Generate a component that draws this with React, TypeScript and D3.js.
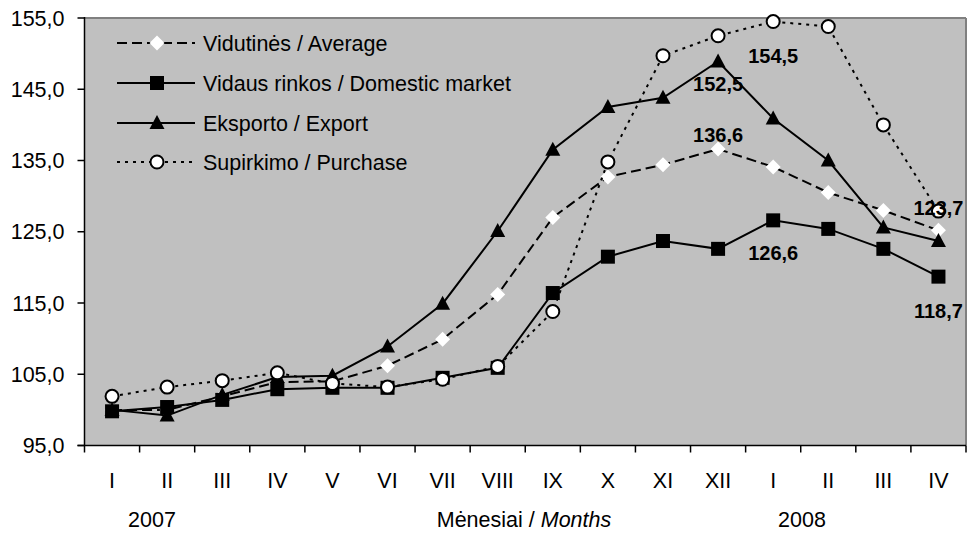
import React from "react";
import * as d3 from "d3";

const months = ["I", "II", "III", "IV", "V", "VI", "VII", "VIII", "IX", "X", "XI", "XII", "I", "II", "III", "IV"];
const average = [100.0, 100.0, 101.9, 103.9, 104.0, 106.2, 109.9, 116.2, 127.0, 132.7, 134.4, 136.6, 134.1, 130.5, 128.0, 125.2];
const domestic = [99.8, 100.4, 101.4, 102.9, 103.1, 103.1, 104.5, 105.9, 116.4, 121.5, 123.7, 122.6, 126.6, 125.4, 122.6, 118.7];
const exportS = [100.0, 99.2, 102.1, 104.6, 104.8, 108.9, 114.9, 125.1, 136.5, 142.5, 143.8, 148.9, 140.9, 135.0, 125.6, 123.7];
const purchase = [101.9, 103.2, 104.1, 105.2, 103.7, 103.2, 104.3, 106.1, 113.8, 134.8, 149.7, 152.5, 154.5, 153.8, 140.0, 127.9];
const yTicks = [95, 105, 115, 125, 135, 145, 155];
const legendNames = ["Vidutinės / Average", "Vidaus rinkos / Domestic market", "Eksporto / Export", "Supirkimo / Purchase"];

// data labels: [series index, point index, text, dy]
const labels: [number, number, string, number][] = [
  [3, 12, "154,5", 41],
  [3, 11, "152,5", 55],
  [0, 11, "136,6", -7],
  [1, 12, "126,6", 40],
  [2, 15, "123,7", -26],
  [1, 15, "118,7", 41],
];

const W = 970, H = 533;
const L = 84.5, R = 966, T = 18, B = 445.5;
const FONT = "'Liberation Sans', Arial, sans-serif";
const FS = 21.5;

export default function App() {
  const x = d3.scaleBand<number>().domain(d3.range(months.length)).range([L, R]).padding(0);
  const cx = (i: number) => (x(i) as number) + x.bandwidth() / 2;
  const y = d3.scaleLinear().domain([95, 155]).range([B, T]);
  const line = d3.line<number>().x((_, i) => cx(i)).y((d) => y(d));
  const series = [average, domestic, exportS, purchase];
  const dashes = ["10,5", "", "", "3,5"];

  const marker = (k: number, px: number, py: number, key: string) => {
    if (k === 0) {
      const s = 7.5;
      return <path key={key} d={`M${px},${py - s}L${px + s},${py}L${px},${py + s}L${px - s},${py}Z`} fill="#fff" />;
    }
    if (k === 1) return <rect key={key} x={px - 7} y={py - 7} width={14} height={14} fill="#000" />;
    if (k === 2) return <path key={key} d={`M${px},${py - 8}L${px + 7.5},${py + 6}L${px - 7.5},${py + 6}Z`} fill="#000" />;
    return <circle key={key} cx={px} cy={py} r={6.5} fill="#fff" stroke="#000" strokeWidth={2} />;
  };

  const legendY = [43, 83, 123, 162];

  return (
    <svg width={W} height={H} style={{ position: "absolute", left: 0, top: 0, fontFamily: FONT }}>
      <rect x={0} y={0} width={W} height={H} fill="#fff" />
      <rect x={L} y={T} width={R - L} height={B - T} fill="#c0c0c0" />
      <line x1={L} x2={R} y1={T} y2={T} stroke="#808080" strokeWidth={2} />
      <line x1={R} x2={R} y1={T} y2={B} stroke="#808080" strokeWidth={2} />
      {/* axes */}
      <line x1={L} x2={L} y1={T - 1} y2={B} stroke="#000" strokeWidth={1.5} />
      <line x1={L - 7} x2={R} y1={B} y2={B} stroke="#000" strokeWidth={1.5} />
      {yTicks.map((t) => (
        <g key={"yt" + t}>
          <line x1={L - 7} x2={L} y1={y(t)} y2={y(t)} stroke="#000" strokeWidth={1.5} />
          <text x={L - 20} y={y(t)} dy="0.35em" textAnchor="end" fontSize={FS} fill="#000">
            {t.toFixed(1).replace(".", ",")}
          </text>
        </g>
      ))}
      {d3.range(months.length + 1).map((i) => {
        const xx = i < months.length ? (x(i) as number) : R;
        return <line key={"xt" + i} x1={xx} x2={xx} y1={B} y2={B + 7} stroke="#000" strokeWidth={1.5} />;
      })}
      {months.map((m, i) => (
        <text key={"m" + i} x={cx(i)} y={488} textAnchor="middle" fontSize={FS} fill="#000">{m}</text>
      ))}
      <text x={152} y={527} textAnchor="middle" fontSize={FS}>2007</text>
      <text x={802} y={527} textAnchor="middle" fontSize={FS}>2008</text>
      <text x={524} y={527} textAnchor="middle" fontSize={FS}>
        Mėnesiai / <tspan fontStyle="italic">Months</tspan>
      </text>
      {/* series */}
      {series.map((s, k) => (
        <g key={"s" + k}>
          <path d={line(s) as string} fill="none" stroke="#000" strokeWidth={2} strokeDasharray={dashes[k] || undefined} />
          {s.map((v, i) => marker(k, cx(i), y(v), `mk${k}-${i}`))}
        </g>
      ))}
      {/* data labels */}
      {labels.map(([k, i, t, dy], j) => (
        <text key={"lb" + j} x={cx(i)} y={y(series[k][i]) + dy} textAnchor="middle" fontSize={20} fontWeight="bold" fill="#000">
          {t}
        </text>
      ))}
      {/* legend */}
      {legendNames.map((n, k) => (
        <g key={"lg" + k}>
          <line x1={117} x2={195} y1={legendY[k]} y2={legendY[k]} stroke="#000" strokeWidth={2} strokeDasharray={dashes[k] || undefined} />
          {marker(k, 157, legendY[k], "lgm" + k)}
          <text x={203} y={legendY[k]} dy="0.35em" fontSize={FS} fill="#000">{n}</text>
        </g>
      ))}
    </svg>
  );
}
